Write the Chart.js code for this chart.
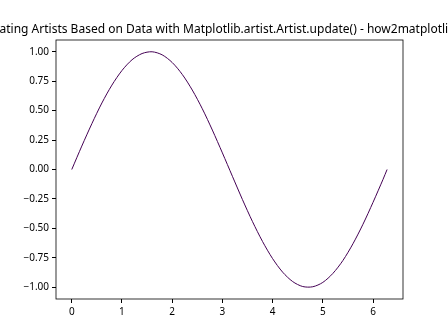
<!DOCTYPE html>
<html>
<head>
<meta charset="utf-8">
<script src="https://cdn.jsdelivr.net/npm/chart.js@4/dist/chart.umd.min.js"></script>
<style>
  body { margin: 0; background: #fff; }
</style>
</head>
<body>
<canvas id="sineChart" width="448" height="336"></canvas>
<script>
// Values
const xValues = [0, 0.2, 0.4, 0.6, 0.8, 1.0, 1.2, 1.4, 1.6, 1.8, 2.0, 2.2, 2.4, 2.6, 2.8, 3.0,
  3.2, 3.4, 3.6, 3.8, 4.0, 4.2, 4.4, 4.6, 4.8, 5.0, 5.2, 5.4, 5.6, 5.8, 6.0, 6.2, 6.28];
const yValues = [0, 0.199, 0.389, 0.565, 0.717, 0.841, 0.932, 0.985, 1.000, 0.974, 0.909, 0.808, 0.675, 0.516, 0.335, 0.141,
  -0.058, -0.256, -0.443, -0.612, -0.757, -0.872, -0.952, -0.994, -0.996, -0.959, -0.883, -0.773, -0.631, -0.465, -0.279, -0.083, 0.000];
const xTicks = [0, 1, 2, 3, 4, 5, 6];
const yTicks = [-1.0, -0.75, -0.5, -0.25, 0, 0.25, 0.5, 0.75, 1.0];

const TITLE = "Updating Artists Based on Data with Matplotlib.artist.Artist.update() - how2matplotlib.com";
const FONT = "'Noto Sans', sans-serif";

const points = xValues.map((x, i) => ({ x: x, y: yValues[i] }));

// title drawn centred over the axes, allowed to run off the canvas
const titleAndFrame = {
  id: "titleAndFrame",
  afterDraw(chart) {
    const { ctx, chartArea: a } = chart;
    ctx.save();
    ctx.strokeStyle = "#000";
    ctx.lineWidth = 0.8;
    ctx.strokeRect(a.left, a.top, a.right - a.left, a.bottom - a.top);
    ctx.fillStyle = "#000";
    ctx.font = "12px " + FONT;
    ctx.textAlign = "center";
    ctx.textBaseline = "alphabetic";
    ctx.fillText(TITLE, (a.left + a.right) / 2, a.top - 7);
    ctx.restore();
  },
};

const fmtY = (v) => (v < 0 ? "\u2212" : "") + Math.abs(v).toFixed(2);

new Chart(document.getElementById("sineChart"), {
  type: "line",
  data: {
    datasets: [
      {
        data: points,
        borderColor: "#440154",
        borderWidth: 1,
        pointRadius: 0,
        fill: false,
        tension: 0.3,
      },
    ],
  },
  options: {
    responsive: false,
    animation: false,
    events: [],
    layout: { padding: { top: 40, right: 45, bottom: 0, left: 0 } },
    plugins: { legend: { display: false }, tooltip: { enabled: false } },
    scales: {
      x: {
        type: "linear",
        min: -0.314,
        max: 6.597,
        afterBuildTicks: (s) => { s.ticks = xTicks.map((v) => ({ value: v })); },
        afterFit: (s) => { s.height = 37; },
        grid: { drawOnChartArea: false, tickLength: 4, color: "#000" },
        border: { display: false },
        ticks: {
          color: "#000",
          padding: 3,
          maxRotation: 0,
          font: { family: FONT, size: 10 },
          callback: (v) => String(v),
        },
      },
      y: {
        type: "linear",
        min: -1.1,
        max: 1.1,
        afterBuildTicks: (s) => { s.ticks = yTicks.map((v) => ({ value: v })); },
        afterFit: (s) => { s.width = 56; },
        grid: { drawOnChartArea: false, tickLength: 4, color: "#000" },
        border: { display: false },
        ticks: {
          color: "#000",
          padding: 3,
          font: { family: FONT, size: 10 },
          callback: (v) => fmtY(v),
        },
      },
    },
  },
  plugins: [titleAndFrame],
});
</script>
</body>
</html>
